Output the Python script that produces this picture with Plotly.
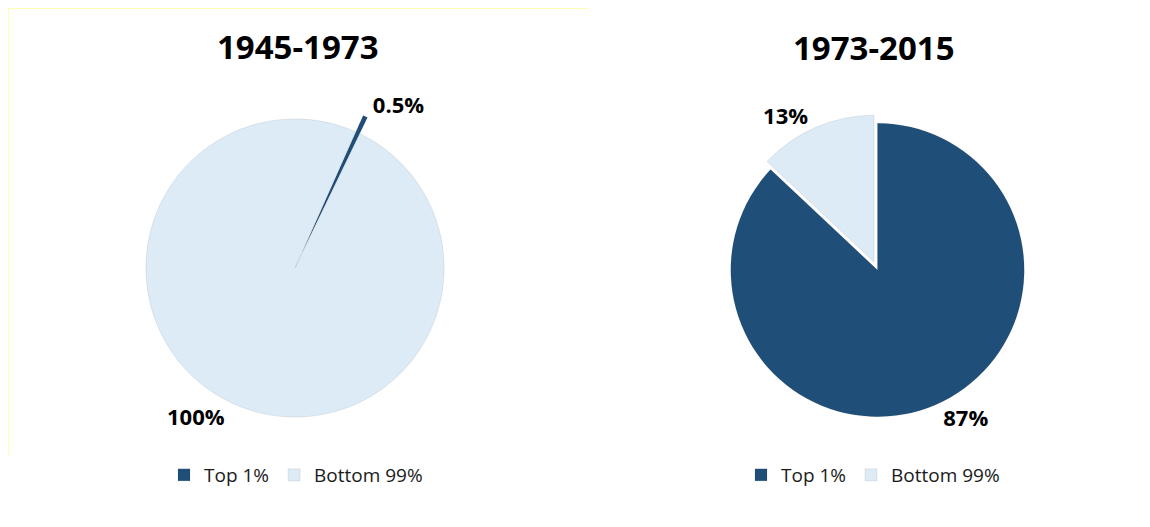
import plotly.graph_objects as go

# ---- data ----
categories = ["Top 1%", "Bottom 99%"]
period_titles = ["1945-1973", "1973-2015"]
shares_1945_1973 = [0.5, 99.5]
shares_1973_2015 = [87, 13]
labels_1945_1973 = ["0.5%", "100%"]
labels_1973_2015 = ["87%", "13%"]

DARK = "#1F4E79"
LIGHT = "#DDEBF7"
# page body has an 8px margin; size the figure to fit inside the window
OFF = 8
W, H = 1150 - 2 * OFF, 527 - 2 * OFF

def px_x(x):
    return (x - OFF) / W

def px_y(y):
    return 1 - (y - OFF) / H

fig = go.Figure()

label_font = dict(family="Open Sans", size=22, color="black", weight="bold")
edge = dict(color="rgba(0,0,0,0.10)", width=0.8)

fig.add_trace(go.Pie(
    labels=categories, values=shares_1945_1973, text=labels_1945_1973,
    textinfo="text", textposition="outside", outsidetextfont=label_font,
    sort=False, direction="clockwise", rotation=24,
    pull=[0.12, 0],
    marker=dict(colors=[DARK, LIGHT], line=edge),
    domain=dict(x=[px_x(128), px_x(462)], y=[px_y(435), px_y(101)]),
    hoverinfo="skip", legend="legend", legendgroup="p1", showlegend=True,
))

fig.add_trace(go.Pie(
    labels=categories, values=shares_1973_2015, text=labels_1973_2015,
    textinfo="text", textposition="outside", outsidetextfont=label_font,
    sort=False, direction="clockwise", rotation=0,
    pull=[0, 0.06],
    marker=dict(colors=[DARK, LIGHT], line=edge),
    domain=dict(x=[px_x(722), px_x(1033)], y=[px_y(426), px_y(114)]),
    hoverinfo="skip", legend="legend2", legendgroup="p2", showlegend=True,
))

legend_style = dict(
    orientation="h", xanchor="center", yanchor="middle",
    font=dict(family="Open Sans", size=19, color="#1a1a1a"),
    bgcolor="rgba(0,0,0,0)", itemwidth=30, traceorder="normal",
)

title_font = dict(family="Open Sans", size=33, color="black", weight="bold")

fig.update_layout(
    width=W, height=H,
    margin=dict(l=0, r=0, t=0, b=0),
    paper_bgcolor="white", plot_bgcolor="white",
    legend=dict(x=px_x(296), y=px_y(475), **legend_style),
    legend2=dict(x=px_x(873), y=px_y(475), **legend_style),
    annotations=[
        dict(text=period_titles[0], x=px_x(298), y=px_y(46), xref="paper", yref="paper",
             showarrow=False, xanchor="center", yanchor="middle", font=title_font),
        dict(text=period_titles[1], x=px_x(874), y=px_y(47), xref="paper", yref="paper",
             showarrow=False, xanchor="center", yanchor="middle", font=title_font),
    ],
    shapes=[
        dict(type="line", xref="paper", yref="paper", x0=px_x(8.5), x1=px_x(588),
             y0=px_y(8.5), y1=px_y(8.5), line=dict(color="#FFFFB3", width=1)),
        dict(type="line", xref="paper", yref="paper", x0=px_x(8.5), x1=px_x(8.5),
             y0=px_y(8.5), y1=px_y(455), line=dict(color="#FFFFB3", width=1)),
    ],
)

fig.write_html("out.html")
